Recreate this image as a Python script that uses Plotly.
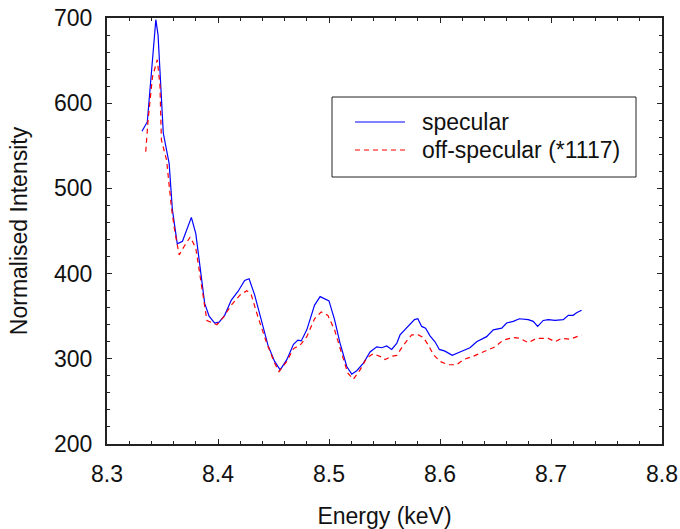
import plotly.graph_objects as go

# ---- data ----
energy_spec = [8.3315, 8.3363, 8.344, 8.346, 8.3507, 8.356, 8.3589, 8.3633, 8.368, 8.376,
               8.380, 8.3853, 8.388, 8.392, 8.397, 8.401, 8.406, 8.412, 8.418, 8.424,
               8.428, 8.433, 8.439, 8.445, 8.451, 8.456, 8.462, 8.468, 8.472, 8.475,
               8.480, 8.487, 8.492, 8.496, 8.500, 8.505, 8.510, 8.516, 8.5205, 8.525,
               8.531, 8.537, 8.543, 8.5475, 8.552, 8.5565, 8.561, 8.564, 8.571, 8.577,
               8.580, 8.5835, 8.587, 8.591, 8.5955, 8.5994, 8.6045, 8.611, 8.618, 8.627,
               8.633, 8.642, 8.648, 8.6556, 8.660, 8.666, 8.6715, 8.6795, 8.684, 8.688,
               8.693, 8.6976, 8.7036, 8.711, 8.7156, 8.720, 8.723, 8.7276]
intensity_spec = [567, 578, 698, 680, 565, 529, 475, 435, 438, 466,
                  447, 396, 365, 350, 342, 343, 351, 369, 379, 392,
                  394, 375, 346, 316, 297, 287, 299, 317, 322, 321,
                  334, 363, 373, 370, 368, 346, 318, 291, 282, 286,
                  295, 308, 314, 313, 315, 311, 318, 328, 338, 346,
                  347, 338, 336, 327, 320, 311, 309, 304, 308, 313,
                  320, 326, 334, 336, 342, 344, 347, 346, 344, 338,
                  345, 346, 345, 346, 351, 351, 354, 357]

energy_off = [8.3349, 8.337, 8.341, 8.3453, 8.3477, 8.349, 8.3537, 8.358, 8.361, 8.365,
              8.370, 8.375, 8.380, 8.384, 8.390, 8.399, 8.405, 8.412, 8.420, 8.426,
              8.430, 8.436, 8.444, 8.451, 8.455, 8.462, 8.468, 8.474, 8.480, 8.487,
              8.493, 8.499, 8.505, 8.511, 8.517, 8.522, 8.528, 8.534, 8.540, 8.5475,
              8.5505, 8.5565, 8.561, 8.567, 8.5745, 8.5805, 8.585, 8.5895, 8.594, 8.600,
              8.6075, 8.615, 8.621, 8.630, 8.639, 8.6495, 8.657, 8.666, 8.672, 8.6795,
              8.687, 8.6976, 8.7036, 8.7096, 8.717, 8.7246, 8.7276]
intensity_off = [543, 580, 631, 651, 621, 557, 533, 478, 450, 422,
                 433, 443, 430, 394, 345, 340, 349, 363, 375, 380,
                 375, 349, 318, 295, 285, 297, 312, 316, 326, 347,
                 355, 351, 334, 308, 283, 276, 287, 301, 306, 302,
                 299, 303, 304, 316, 328, 328, 325, 316, 305, 297,
                 293, 293, 299, 303, 308, 314, 322, 325, 324, 319,
                 324, 324, 320, 324, 323, 327, 328]

series_names = ["specular", "off-specular (*1117)"]
series_colors = ["#0000ff", "#ff0000"]
series_dashes = ["solid", "5px,4px"]
x_ticks = [8.3, 8.4, 8.5, 8.6, 8.7, 8.8]
y_ticks = [200, 300, 400, 500, 600, 700]

FONT = "Liberation Sans, Arial, sans-serif"
TXT = "#111111"

W, H = 680, 529
ML, MR, MT, MB = 107, 18, 18, 85
PW, PH = W - ML - MR, H - MT - MB


def px_to_paper(x, y):
    # reference-pixel position -> paper coordinates
    return (x - ML) / PW, (H - MB - y) / PH


fig = go.Figure()
fig.add_trace(go.Scatter(x=energy_spec, y=intensity_spec, mode="lines", name=series_names[0],
                         line=dict(color=series_colors[0], width=1.2, dash=series_dashes[0])))
fig.add_trace(go.Scatter(x=energy_off, y=intensity_off, mode="lines", name=series_names[1],
                         line=dict(color=series_colors[1], width=1.2, dash=series_dashes[1])))

axis_common = dict(showline=True, linecolor="#222222", linewidth=2, mirror="allticks",
                   ticks="inside", ticklen=5, tickwidth=1, tickcolor="#222222",
                   showgrid=False, zeroline=False, automargin=False,
                   ticklabeloverflow="allow",
                   tickfont=dict(family=FONT, size=23, color=TXT),
                   minor=dict(ticks="inside", ticklen=3, tickwidth=1, tickcolor="#222222"))

fig.update_xaxes(range=[8.3, 8.8], tickvals=x_ticks, ticktext=[f"{v:.1f}" for v in x_ticks],
                 minor_dtick=0.02, ticklabelstandoff=8,
                 title=dict(text="Energy (keV)", font=dict(family=FONT, size=23, color=TXT),
                            standoff=23),
                 **axis_common)
fig.update_yaxes(range=[200, 700], tickvals=y_ticks, minor_dtick=20, ticklabelstandoff=8,
                 title=dict(text="Normalised Intensity", font=dict(family=FONT, size=23, color=TXT),
                            standoff=20),
                 **axis_common)

# legend (drawn as frame + sample lines + labels)
x0, y0 = px_to_paper(332, 177)
x1, y1 = px_to_paper(636, 97)
fig.add_shape(type="rect", xref="paper", yref="paper", x0=x0, x1=x1, y0=y0, y1=y1,
              line=dict(color="#222222", width=1), fillcolor="rgba(0,0,0,0)")
for i, (name, col, dsh) in enumerate(zip(series_names, series_colors, series_dashes)):
    ly = 122 + 28 * i
    lx0, lyp = px_to_paper(355, ly)
    lx1, _ = px_to_paper(405, ly)
    tx, _ = px_to_paper(420, ly)
    fig.add_shape(type="line", xref="paper", yref="paper", x0=lx0, x1=lx1, y0=lyp, y1=lyp,
                  line=dict(color=col, width=1.2, dash=dsh))
    fig.add_annotation(xref="paper", yref="paper", x=tx, y=lyp, text=name, showarrow=False,
                       xanchor="left", yanchor="middle",
                       font=dict(family=FONT, size=23, color=TXT))

fig.update_layout(
    width=W, height=H,
    margin=dict(l=ML, r=MR, t=MT, b=MB),
    paper_bgcolor="white", plot_bgcolor="white",
    font=dict(family=FONT, color=TXT),
    showlegend=False,
)

fig.write_html("out.html", config={"displayModeBar": False},
               post_script="document.body.style.margin='0';document.body.style.overflow='hidden';")
